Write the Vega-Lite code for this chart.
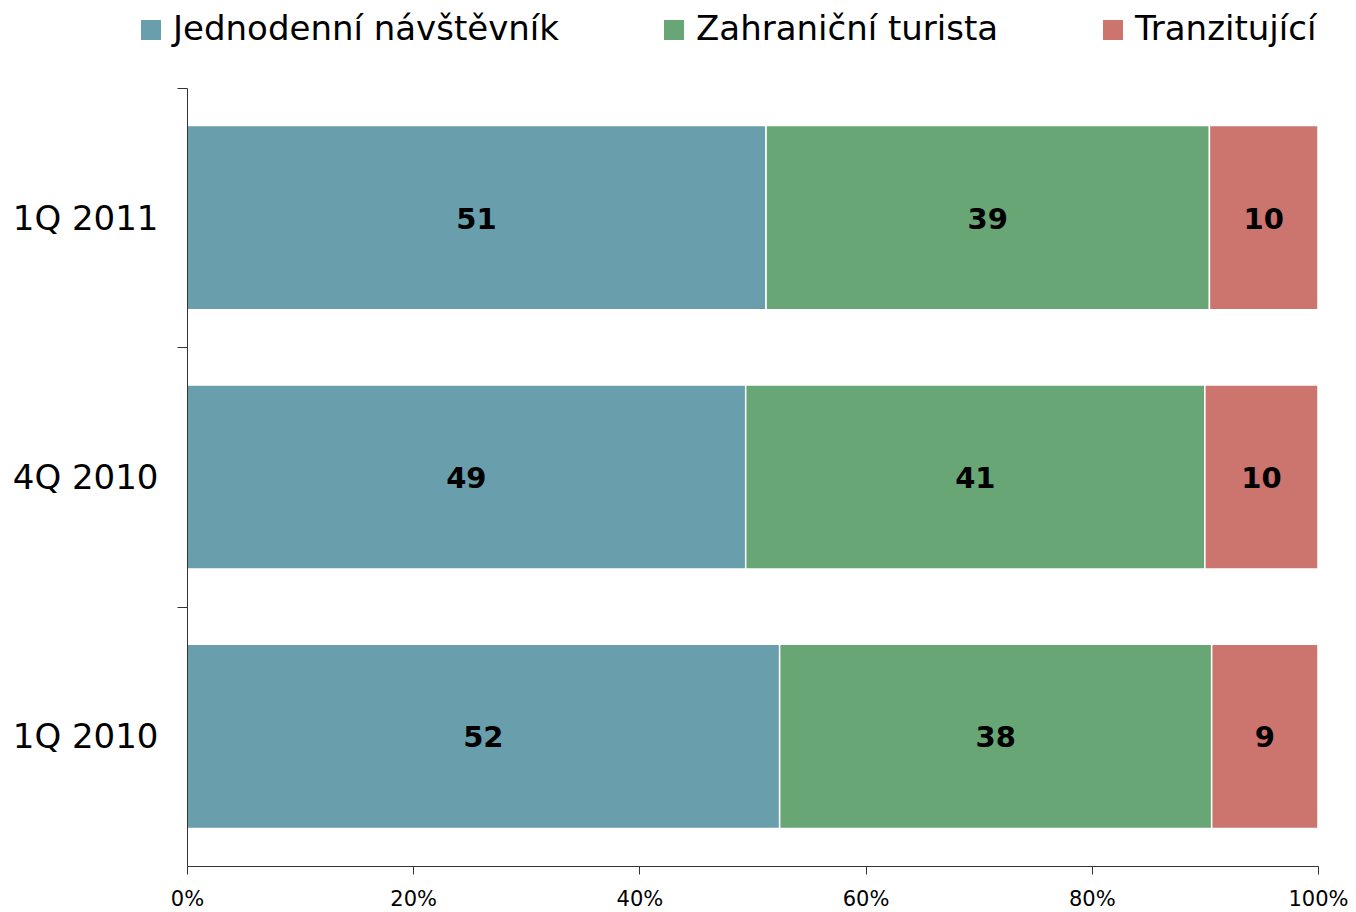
{
  "$schema": "https://vega.github.io/schema/vega-lite/v6.json",
  "width": 1131,
  "height": 778,
  "autosize": {"type": "none"},
  "padding": {"left": 187, "top": 88, "right": 38, "bottom": 46},
  "background": "white",
  "config": {"view": {"stroke": null}, "font": "DejaVu Sans"},
  "data": {"values": [
    {"q": "1Q 2011", "typ": "Jednodenní návštěvník", "k": 1, "v": 51.2},
    {"q": "1Q 2011", "typ": "Zahraniční turista", "k": 2, "v": 39.2},
    {"q": "1Q 2011", "typ": "Tranzitující", "k": 3, "v": 9.6},
    {"q": "4Q 2010", "typ": "Jednodenní návštěvník", "k": 1, "v": 49.4},
    {"q": "4Q 2010", "typ": "Zahraniční turista", "k": 2, "v": 40.6},
    {"q": "4Q 2010", "typ": "Tranzitující", "k": 3, "v": 10.0},
    {"q": "1Q 2010", "typ": "Jednodenní návštěvník", "k": 1, "v": 52.4},
    {"q": "1Q 2010", "typ": "Zahraniční turista", "k": 2, "v": 38.2},
    {"q": "1Q 2010", "typ": "Tranzitující", "k": 3, "v": 9.4}
  ]},
  "transform": [
    {"stack": "v", "groupby": ["q"], "sort": [{"field": "k", "order": "ascending"}], "offset": "normalize", "as": ["x0", "x1"]},
    {"calculate": "(datum.x0 + datum.x1) / 2", "as": "xm"}
  ],
  "resolve": {"axis": {"y": "independent"}},
  "layer": [
    {
      "mark": {"type": "bar", "stroke": "white", "strokeWidth": 1.5},
      "encoding": {
        "y": {"field": "q", "type": "nominal", "sort": ["1Q 2011", "4Q 2010", "1Q 2010"],
          "scale": {"paddingInner": 0.29, "paddingOuter": 0.145},
          "axis": {"title": null, "orient": "left", "ticks": false, "domain": false,
            "labelFontSize": 34, "labelColor": "#000", "labelPadding": 29, "labelOffset": 2, "labelFont": "DejaVu Sans"}},
        "x": {"field": "x0", "type": "quantitative", "scale": {"domain": [0, 1]},
          "axis": {"title": null, "format": ".0%", "values": [0, 0.2, 0.4, 0.6, 0.8, 1], "grid": false,
            "tickSize": 8, "tickColor": "#333", "domainColor": "#333", "labelFontSize": 21, "labelColor": "#000",
            "labelPadding": 14, "labelFlush": false}},
        "x2": {"field": "x1"},
        "color": {"field": "typ", "type": "nominal",
          "scale": {"domain": ["Jednodenní návštěvník", "Zahraniční turista", "Tranzitující"], "range": ["#699FAD", "#68A675", "#CC756F"]},
          "legend": {"title": null, "orient": "none", "legendX": -53, "legendY": -75, "direction": "horizontal", "columns": 3,
            "symbolType": "square", "symbolSize": 400, "symbolStrokeWidth": 0, "labelFontSize": 34, "labelColor": "#000",
            "labelOffset": 5, "columnPadding": 97, "labelLimit": 600}}
      }
    },
    {
      "mark": {"type": "text", "fontSize": 29, "fontWeight": "bold", "color": "#000", "align": "center", "baseline": "middle", "dy": 2},
      "encoding": {
        "y": {"field": "q", "type": "nominal", "sort": ["1Q 2011", "4Q 2010", "1Q 2010"],
          "axis": {"title": null, "orient": "left", "labels": false, "bandPosition": 0, "tickOffset": -37.6, "tickSize": 10,
            "tickColor": "#333", "domainColor": "#333", "zindex": 1}},
        "x": {"field": "xm", "type": "quantitative"},
        "text": {"field": "v", "type": "quantitative", "format": ".0f"}
      }
    }
  ]
}
